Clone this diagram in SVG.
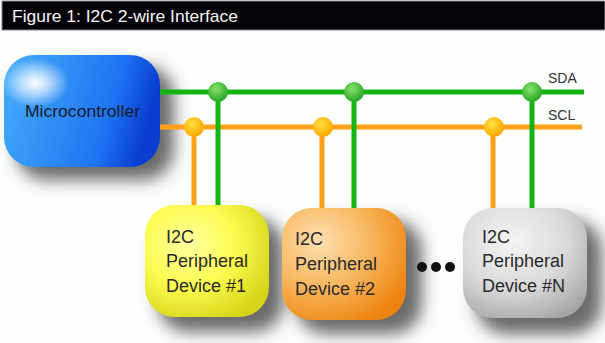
<svg xmlns="http://www.w3.org/2000/svg" width="605" height="343" viewBox="0 0 605 343">
  <style>
    .title { font-family: "Liberation Sans", Arial, sans-serif; font-size: 17px; fill: #f4f4f4; }
    .lbl { font-family: "Liberation Sans", Arial, sans-serif; font-size: 14px; fill: #333; }
    .dev { font-family: "Liberation Sans", Arial, sans-serif; font-size: 18px; fill: #2a2a2a; }
    .mc { font-family: "Liberation Sans", Arial, sans-serif; font-size: 16px; fill: #1a1a2a; }
    .sda { stroke: #14b414; stroke-width: 5; fill: none; }
    .scl { stroke: #ffa21a; stroke-width: 5; fill: none; }
  </style>
  <defs>
    <filter id="shadow" x="-30%" y="-30%" width="170%" height="170%">
      <feGaussianBlur stdDeviation="8"/>
    </filter>
    <linearGradient id="gBlue" x1="0" y1="0" x2="1" y2="0.2">
      <stop offset="0" stop-color="#44aefa"/>
      <stop offset="0.75" stop-color="#1e74f2"/>
      <stop offset="1" stop-color="#0a3ed0"/>
    </linearGradient>
    <radialGradient id="gGlare" cx="0.2" cy="0.25" r="0.22">
      <stop offset="0" stop-color="#ffffff" stop-opacity="1"/>
      <stop offset="0.45" stop-color="#ffffff" stop-opacity="0.6"/>
      <stop offset="1" stop-color="#ffffff" stop-opacity="0"/>
    </radialGradient>
    <radialGradient id="gYellow" cx="0.35" cy="0.35" r="0.75">
      <stop offset="0" stop-color="#ffffa0"/>
      <stop offset="0.5" stop-color="#fcfc50"/>
      <stop offset="1" stop-color="#d4d418"/>
    </radialGradient>
    <radialGradient id="gOrange" cx="0.3" cy="0.3" r="0.8">
      <stop offset="0" stop-color="#fde0b0"/>
      <stop offset="0.5" stop-color="#f8b860"/>
      <stop offset="1" stop-color="#ee8410"/>
    </radialGradient>
    <radialGradient id="gGray" cx="0.4" cy="0.3" r="0.8">
      <stop offset="0" stop-color="#f4f4f4"/>
      <stop offset="0.55" stop-color="#dadada"/>
      <stop offset="1" stop-color="#a4a4a4"/>
    </radialGradient>
    <radialGradient id="gDotG" cx="0.4" cy="0.35" r="0.65">
      <stop offset="0" stop-color="#8ee070"/>
      <stop offset="1" stop-color="#24a824"/>
    </radialGradient>
    <radialGradient id="gDotO" cx="0.4" cy="0.35" r="0.65">
      <stop offset="0" stop-color="#ffe040"/>
      <stop offset="1" stop-color="#ffa800"/>
    </radialGradient>
  </defs>

  <rect x="0" y="0" width="605" height="343" fill="#fcfefc"/>

  <!-- title bar -->
  <g id="title">
    <rect x="2" y="1" width="603" height="29" fill="#050308" stroke="#888" stroke-width="1"/>
    <text class="title" x="12" y="22" textLength="226" lengthAdjust="spacingAndGlyphs">Figure 1: I2C 2-wire Interface</text>
  </g>

  <!-- drop shadows -->
  <g id="shadows" fill="#3a3a3a" opacity="0.75" filter="url(#shadow)">
    <rect x="16" y="66" width="158" height="114" rx="30"/>
    <rect x="158" y="218" width="126" height="114" rx="30"/>
    <rect x="296" y="220" width="126" height="114" rx="30"/>
    <rect x="476" y="220" width="126" height="114" rx="30"/>
  </g>

  <!-- bus lines and taps -->
  <g id="connectors">
    <line class="sda" x1="158" y1="92" x2="584" y2="92"/>
    <line class="scl" x1="158" y1="127" x2="582" y2="127"/>
    <line class="scl" x1="194" y1="127" x2="194" y2="207"/>
    <line class="sda" x1="218" y1="92" x2="218" y2="207"/>
    <line class="scl" x1="322" y1="127" x2="322" y2="209"/>
    <line class="sda" x1="354" y1="92" x2="354" y2="209"/>
    <line class="scl" x1="493" y1="127" x2="493" y2="209"/>
    <line class="sda" x1="532" y1="92" x2="532" y2="209"/>
    <circle cx="218" cy="92" r="10" fill="url(#gDotG)"/>
    <circle cx="354" cy="92" r="10" fill="url(#gDotG)"/>
    <circle cx="532" cy="92" r="10" fill="url(#gDotG)"/>
    <circle cx="194" cy="127" r="10" fill="url(#gDotO)"/>
    <circle cx="323" cy="127" r="10" fill="url(#gDotO)"/>
    <circle cx="494" cy="127" r="10" fill="url(#gDotO)"/>
    <text class="lbl" x="548" y="83">SDA</text>
    <text class="lbl" x="548" y="120">SCL</text>
  </g>

  <g id="microcontroller">
    <rect x="4" y="55" width="156" height="112" rx="30" fill="url(#gBlue)"/>
    <rect x="4" y="55" width="156" height="112" rx="30" fill="url(#gGlare)"/>
    <text class="mc" x="25" y="117" textLength="115" lengthAdjust="spacingAndGlyphs">Microcontroller</text>
  </g>

  <g id="device1">
    <rect x="145" y="205" width="124" height="112" rx="30" fill="url(#gYellow)"/>
    <text class="dev" x="166" y="243">I2C</text>
    <text class="dev" x="166" y="267">Peripheral</text>
    <text class="dev" x="166" y="292">Device #1</text>
  </g>

  <g id="device2">
    <rect x="282" y="208" width="124" height="112" rx="30" fill="url(#gOrange)"/>
    <text class="dev" x="295" y="245">I2C</text>
    <text class="dev" x="295" y="270">Peripheral</text>
    <text class="dev" x="295" y="295">Device #2</text>
  </g>

  <g id="ellipsis" fill="#111">
    <circle cx="422" cy="267" r="5"/>
    <circle cx="436" cy="267" r="5"/>
    <circle cx="450" cy="267" r="5"/>
  </g>

  <g id="deviceN">
    <rect x="463" y="208" width="124" height="110" rx="30" fill="url(#gGray)"/>
    <text class="dev" x="482" y="243">I2C</text>
    <text class="dev" x="482" y="267">Peripheral</text>
    <text class="dev" x="482" y="292">Device #N</text>
  </g>
</svg>
